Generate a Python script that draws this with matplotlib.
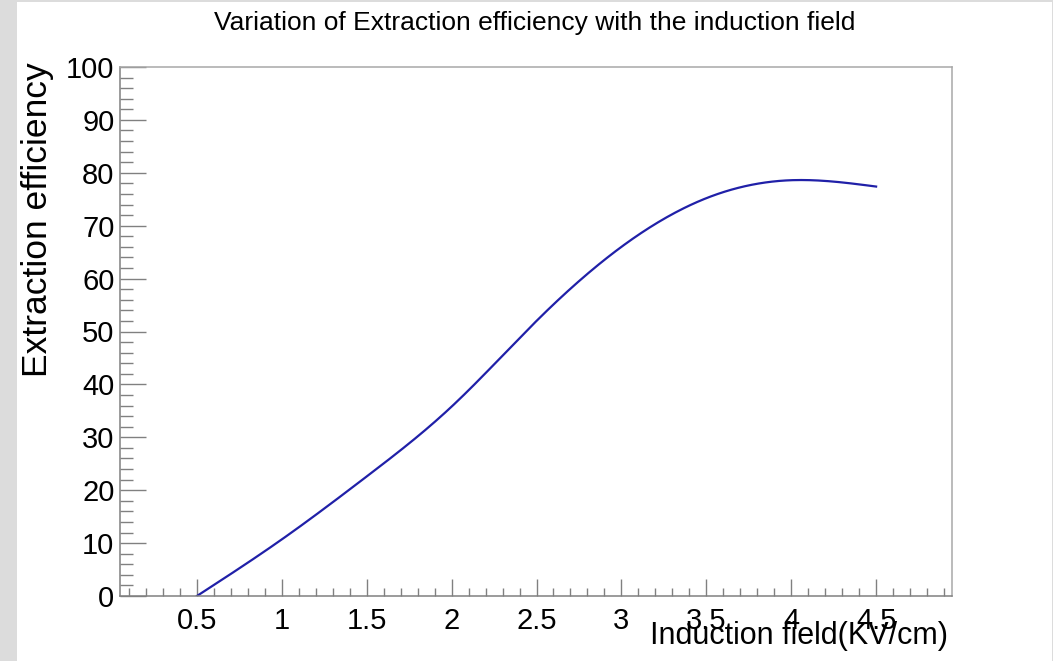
import numpy as np
import matplotlib.pyplot as plt
from matplotlib.patches import Rectangle
from matplotlib.ticker import MultipleLocator

# Data
field = [0.5, 1.0, 1.5, 2.0, 2.5, 3.0, 3.5, 4.0, 4.5]
efficiency = [0.0, 10.7, 22.6, 35.8, 52.0, 66.0, 75.2, 78.6, 77.4]

title = "Variation of Extraction efficiency with the induction field"
xlabel = "Induction field(KV/cm)"
ylabel = "Extraction efficiency"


# Natural cubic spline for a smooth line through the points (like ROOT "C")
def natural_spline(x, y, n=400):
    x = np.asarray(x, float)
    y = np.asarray(y, float)
    k = len(x)
    h = np.diff(x)
    A = np.zeros((k, k))
    r = np.zeros(k)
    A[0, 0] = A[-1, -1] = 1
    for i in range(1, k - 1):
        A[i, i - 1] = h[i - 1]
        A[i, i] = 2 * (h[i - 1] + h[i])
        A[i, i + 1] = h[i]
        r[i] = 3 * ((y[i + 1] - y[i]) / h[i] - (y[i] - y[i - 1]) / h[i - 1])
    c = np.linalg.solve(A, r)
    xs = np.linspace(x[0], x[-1], n)
    idx = np.clip(np.searchsorted(x, xs) - 1, 0, k - 2)
    dx = xs - x[idx]
    b = (y[1:] - y[:-1]) / h - h * (2 * c[:-1] + c[1:]) / 3
    d = (c[1:] - c[:-1]) / (3 * h)
    ys = y[idx] + b[idx] * dx + c[idx] * dx**2 + d[idx] * dx**3
    return xs, ys


plt.rcParams["font.family"] = ["Liberation Sans", "DejaVu Sans"]

fig = plt.figure(figsize=(10.53, 6.61), dpi=100)
fig.patch.set_facecolor("#dcdcdc")
fig.patches.append(Rectangle((17 / 1053, 0), (1052 - 17) / 1053, 1 - 2 / 661,
                             transform=fig.transFigure, facecolor="white",
                             edgecolor="none", zorder=-5))

ax = fig.add_axes([120 / 1053, 65 / 661, (952 - 120) / 1053, (596 - 67) / 661])
ax.set_zorder(2)

xs, ys = natural_spline(field, efficiency)
ax.plot(xs, ys, color="#2020a8", lw=1.6)

ax.set_xlim(0.047, 4.947)
ax.set_ylim(0, 100)

ax.xaxis.set_major_locator(MultipleLocator(0.5))
ax.xaxis.set_minor_locator(MultipleLocator(0.1))
ax.yaxis.set_major_locator(MultipleLocator(10))
ax.yaxis.set_minor_locator(MultipleLocator(2))

ax.set_xticks([0.5, 1, 1.5, 2, 2.5, 3, 3.5, 4, 4.5])
ax.set_xticklabels(["0.5", "1", "1.5", "2", "2.5", "3", "3.5", "4", "4.5"])

ax.tick_params(axis="x", which="major", direction="in", length=12, width=1,
               color="#808080", labelsize=21, pad=8)
ax.tick_params(axis="x", which="minor", direction="in", length=6, width=1,
               color="#808080")
ax.tick_params(axis="y", which="major", direction="in", length=19, width=1,
               color="#808080", labelsize=21, pad=4)
ax.tick_params(axis="y", which="minor", direction="in", length=9.5, width=1,
               color="#808080")

for side in ["left", "bottom"]:
    ax.spines[side].set_color("#808080")
    ax.spines[side].set_linewidth(1.1)
for side in ["top", "right"]:
    ax.spines[side].set_color("#a8a8a8")
    ax.spines[side].set_linewidth(1.1)

fig.text(535 / 1053, 1 - 23 / 661, title, ha="center", va="center",
         fontsize=19)
fig.text(948 / 1053, 1 - 636 / 661, xlabel, ha="right", va="center",
         fontsize=22, zorder=3)
fig.text(38 / 1053, 1 - 62 / 661, ylabel, ha="center", va="top",
         rotation=90, fontsize=25.5)

fig.savefig("out.png", dpi=100)
